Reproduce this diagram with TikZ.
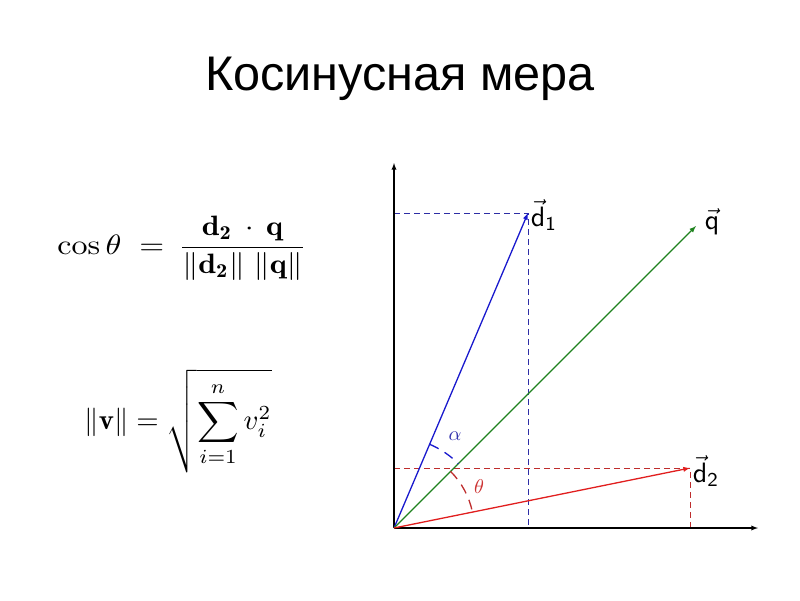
\documentclass[tikz,border=0pt]{standalone}
\usepackage{fontspec}
\usepackage{amsmath}
\newfontfamily\titlefont{Liberation Sans}
\usetikzlibrary{arrows,calc}
\definecolor{vblue}{RGB}{25,25,205}
\definecolor{vgreen}{RGB}{30,130,30}
\definecolor{vred}{RGB}{225,30,30}
\definecolor{pblue}{RGB}{45,45,165}
\definecolor{pred}{RGB}{190,45,45}
\tikzstyle{title}=[font=\titlefont\fontsize{48.6}{52}\selectfont]
\tikzstyle{formula}=[xscale=3.2,yscale=2.8]
\tikzstyle{axis} = [draw,line width=1.3pt,-latex]
\tikzstyle{vec} = [draw,line width=1.3pt,-latex]
\tikzstyle{proj} = [draw,line width=1pt,dash pattern=on 6pt off 4pt]
\tikzstyle{angle} = [draw,line width=1.3pt,dash pattern=on 10pt off 7pt]
\tikzstyle{veclabel} = [scale=2.8,inner sep=0.5pt]
\tikzstyle{anglabel} = [scale=2]

\begin{document}
\begin{tikzpicture}[x=1pt,y=-1pt]
    \useasboundingbox (0,0) rectangle (800,600);
    % Title
    \node[title] (title) at (400,79) {Косинусная мера};

    % Formulas on the left
    \node[formula] (cosf) at (182,248)
        {$\displaystyle \cos\theta \;=\, \frac{\,\mathbf{d_2}\,\cdot\,\mathbf{q}\,}{\|\mathbf{d_2}\|\;\|\mathbf{q}\|}$};
    \node[formula, xscale=0.9, yscale=1.02] (normf) at (178,421)
        {$\displaystyle \|\mathbf{v}\| = \sqrt{\sum_{i=1}^{n} v_i^2}$};

    % Origin, axis ends and vector ends
    \foreach \x/\y/\name in {394/528/O, 394/163/ytop, 758/528/xend,
                             528/213/d1, 696/226/q, 690/468/d2}
        \coordinate (\name) at (\x,\y);

    % Projections
    \path[proj, pblue] (O |- d1) -- (d1) -- (d1 |- O);
    \path[proj, pred] (O |- d2) -- (d2) -- (d2 |- O);

    % Axes
    \path[axis] (O) -- (ytop);
    \path[axis] (O) -- (xend);

    % Vectors
    \foreach \dest/\col in {d1/vblue, q/vgreen, d2/vred}
        \path[vec, \col] (O) -- (\dest);

    \node[veclabel] (d1lab) at (544,215) {$\vec{\mathsf{d}}_{\mathsf{1}}$};
    \node[veclabel] (qlab) at (712,222) {$\vec{\mathsf{q}}$};
    \node[veclabel] (d2lab) at (706,471) {$\vec{\mathsf{d}}_{\mathsf{2}}$};

    % Angles
    \path[angle, vblue] ($(O)!91pt!(d1)$) arc[start angle=66.95, end angle=45, radius=91pt];
    \path[angle, pred] ($(O)!80pt!(q)$) arc[start angle=45, end angle=11.46, radius=80pt];
    \node[anglabel, blue!60!black!80] (alab) at (455,436) {$\alpha$};
    \node[anglabel, red!75!black!80] (tlab) at (479,487) {$\theta$};
\end{tikzpicture}
\end{document}
